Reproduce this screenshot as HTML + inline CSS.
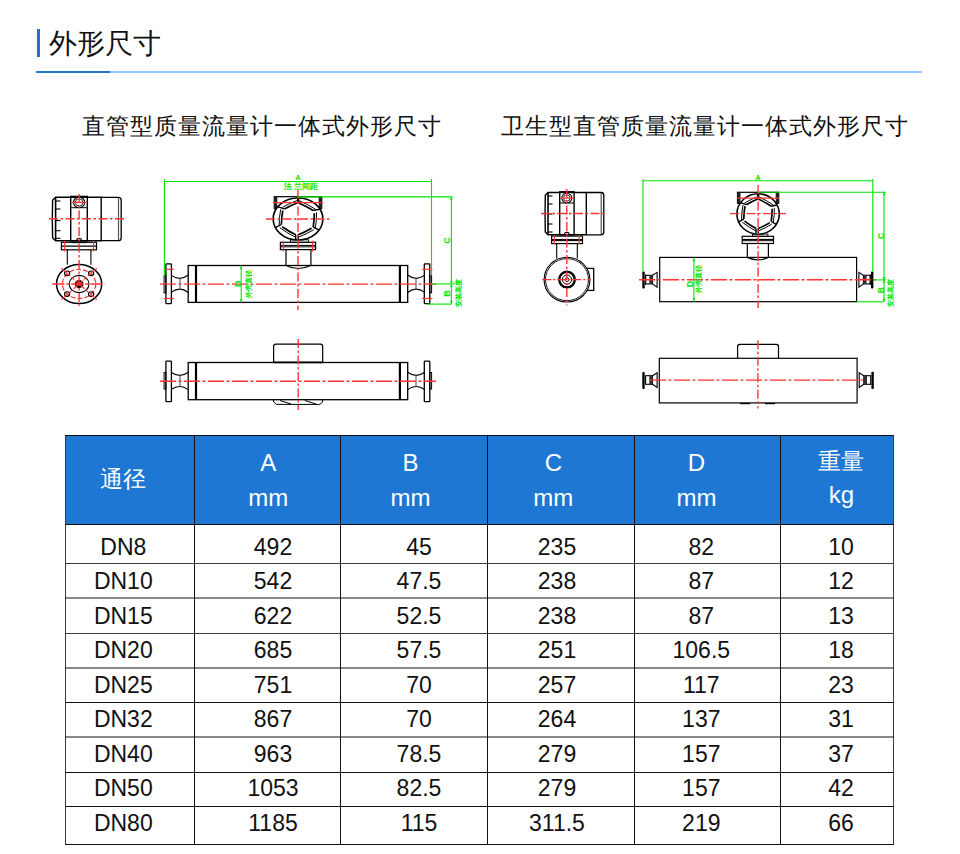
<!DOCTYPE html>
<html>
<head>
<meta charset="utf-8">
<style>
html,body{margin:0;padding:0;background:#fff;}
body{width:960px;height:854px;overflow:hidden;position:relative;font-family:"Liberation Sans",sans-serif;color:#111;}
.abs{position:absolute;white-space:nowrap;}
#bar{position:absolute;left:37px;top:29px;width:3px;height:28px;background:#1f74d0;}
#h1{left:49px;top:30px;font-size:28px;line-height:28px;color:#111;}
#ul1{position:absolute;left:36px;top:71px;width:74px;height:2px;background:#1f74d0;}
#ul2{position:absolute;left:110px;top:71px;width:812px;height:2px;background:#93c6fa;}
.sub{font-size:22.5px;line-height:24px;letter-spacing:1px;color:#111;}
svg{position:absolute;left:0;top:0;}
.c{position:absolute;text-align:center;white-space:nowrap;}
.hd{color:#fff;font-size:24px;}
.bd{color:#111;font-size:23px;line-height:23px;}
</style>
</head>
<body>
<div id="bar"></div>
<div id="h1" class="abs">外形尺寸</div>
<div id="ul1"></div><div id="ul2"></div>
<div class="abs sub" style="left:81.5px;top:114.5px;">直管型质量流量计一体式外形尺寸</div>
<div class="abs sub" style="left:501px;top:114.5px;">卫生型直管质量流量计一体式外形尺寸</div>

<!-- DRAWINGS -->
<svg id="draw" width="960" height="430" viewBox="0 0 960 430" style="font-family:'Liberation Sans',sans-serif">
<path d="M55.5 197.3 H101.2 V240.7 H55.5 L52.6 237.7 Q52.0 219 52.6 200.3 Z" fill="none" stroke="#000" stroke-width="1.4"/>
<path d="M101.2 197.3 H118.5 Q121.2 197.3 121.2 200.3 V237.7 Q121.2 240.7 118.5 240.7 H101.2" fill="none" stroke="#000" stroke-width="1.3"/>
<line x1="118.5" y1="197.8" x2="118.5" y2="240.2" stroke="#555" stroke-width="1.2" />
<line x1="55.6" y1="198" x2="55.6" y2="240" stroke="#000" stroke-width="1.6" />
<line x1="55.6" y1="201" x2="60.5" y2="201" stroke="#000" stroke-width="1.1" />
<line x1="55.6" y1="209" x2="60.5" y2="209" stroke="#000" stroke-width="1.1" />
<line x1="55.6" y1="220.6" x2="60.5" y2="220.6" stroke="#000" stroke-width="1.1" />
<line x1="55.6" y1="230.7" x2="60.5" y2="230.7" stroke="#000" stroke-width="1.1" />
<line x1="55.6" y1="238.3" x2="60.5" y2="238.3" stroke="#000" stroke-width="1.1" />
<rect x="70.7" y="196.4" width="16.6" height="44.3" rx="0" fill="none" stroke="#000" stroke-width="1.4"/>
<line x1="70.7" y1="207.7" x2="87.3" y2="207.7" stroke="#000" stroke-width="1" />
<ellipse cx="79.1" cy="202.4" rx="5.6" ry="5.2" fill="none" stroke="#000" stroke-width="1.1" />
<ellipse cx="79.1" cy="202.4" rx="3.8" ry="3.6" fill="none" stroke="#000" stroke-width="0.8" />
<line x1="71.5" y1="202.4" x2="86.5" y2="202.4" stroke="#ff3333" stroke-width="1.3" />
<path d="M76.6 240.7 A2.5 2.5 0 0 1 81.6 240.7" fill="none" stroke="#000" stroke-width="1.1"/>
<rect x="72" y="240.7" width="14" height="2" rx="0" fill="none" stroke="#000" stroke-width="0.9"/>
<rect x="61.4" y="242.3" width="35.1" height="7.5" rx="0" fill="none" stroke="#000" stroke-width="1.2"/>
<line x1="61.4" y1="246.2" x2="96.5" y2="246.2" stroke="#000" stroke-width="1.3" />
<line x1="67.3" y1="249.8" x2="67.3" y2="264.8" stroke="#000" stroke-width="1.1" />
<line x1="90.9" y1="249.8" x2="90.9" y2="264.8" stroke="#000" stroke-width="1.1" />
<ellipse cx="79.1" cy="284" rx="22.6" ry="19.6" fill="none" stroke="#000" stroke-width="1.5" />
<ellipse cx="79.1" cy="284" rx="9.9" ry="8.6" fill="none" stroke="#000" stroke-width="1.1" />
<ellipse cx="79.1" cy="284" rx="16.7" ry="14.5" fill="none" stroke="#ff3333" stroke-width="1.2" stroke-dasharray="5 2"/>
<ellipse cx="67.1" cy="273.3" rx="2.6" ry="2.3" fill="none" stroke="#000" stroke-width="1.1" />
<ellipse cx="91.1" cy="273.3" rx="2.6" ry="2.3" fill="none" stroke="#000" stroke-width="1.1" />
<ellipse cx="67.1" cy="294.1" rx="2.6" ry="2.3" fill="none" stroke="#000" stroke-width="1.1" />
<ellipse cx="91.1" cy="294.1" rx="2.6" ry="2.3" fill="none" stroke="#000" stroke-width="1.1" />
<ellipse cx="79.1" cy="284" rx="4.4" ry="4.0" fill="#000" stroke="#000" stroke-width="0" />
<line x1="61.4" y1="268.2" x2="96.8" y2="299.6" stroke="#ff3333" stroke-width="1.2" stroke-dasharray="12 2 3 2" stroke-dashoffset="0"/>
<line x1="96.8" y1="268.2" x2="61.4" y2="299.6" stroke="#ff3333" stroke-width="1.2" stroke-dasharray="12 2 3 2" stroke-dashoffset="0"/>
<ellipse cx="79.1" cy="284" rx="1.8" ry="1.8" fill="#ff3333" stroke="#000" stroke-width="0" />
<line x1="52.3" y1="284" x2="104.5" y2="284" stroke="#ff3333" stroke-width="1.4" stroke-dasharray="12 2 3 2" stroke-dashoffset="0"/>
<line x1="49" y1="218.8" x2="126" y2="218.8" stroke="#ff3333" stroke-width="1.4" stroke-dasharray="9 2.5 2.5 2.5" stroke-dashoffset="0"/>
<line x1="79.1" y1="194" x2="79.1" y2="306" stroke="#ff3333" stroke-width="1.4" stroke-dasharray="9 2.5 2.5 2.5" stroke-dashoffset="0"/>
<line x1="64.5" y1="241" x2="64.5" y2="251.5" stroke="#ff3333" stroke-width="1.2" />
<line x1="93.5" y1="241" x2="93.5" y2="251.5" stroke="#ff3333" stroke-width="1.2" />
<rect x="188.2" y="265.5" width="219.5" height="36.9" rx="0" fill="none" stroke="#000" stroke-width="1.3"/>
<line x1="196" y1="265.5" x2="196" y2="302.4" stroke="#000" stroke-width="2.2" />
<line x1="399.9" y1="265.5" x2="399.9" y2="302.4" stroke="#000" stroke-width="2.2" />
<rect x="165.9" y="263.8" width="5.5" height="39.9" rx="0.8" fill="none" stroke="#000" stroke-width="1.3"/>
<rect x="164.1" y="275.7" width="1.8" height="17.1" rx="0" fill="none" stroke="#000" stroke-width="1"/>
<path d="M171.4 275.4 Q180 281.5 188.2 275.0 M171.4 292.1 Q180 286 188.2 292.5" fill="none" stroke="#000" stroke-width="1.1"/>
<line x1="180" y1="278.5" x2="180" y2="289.4" stroke="#666" stroke-width="1.2" />
<rect x="424.3" y="263.8" width="5.5" height="39.9" rx="0.8" fill="none" stroke="#000" stroke-width="1.3"/>
<rect x="429.8" y="275.7" width="1.8" height="17.1" rx="0" fill="none" stroke="#000" stroke-width="1"/>
<path d="M407.7 275.0 Q416 281.5 424.3 275.4 M407.7 292.5 Q416 286 424.3 292.1" fill="none" stroke="#000" stroke-width="1.1"/>
<line x1="416" y1="278.5" x2="416" y2="289.4" stroke="#666" stroke-width="1.2" />
<line x1="163.8" y1="269.3" x2="173.9" y2="269.3" stroke="#ff3333" stroke-width="1.2" />
<line x1="163.8" y1="298.5" x2="173.9" y2="298.5" stroke="#ff3333" stroke-width="1.2" />
<line x1="422.3" y1="269.3" x2="432.4" y2="269.3" stroke="#ff3333" stroke-width="1.2" />
<line x1="422.3" y1="298.5" x2="432.4" y2="298.5" stroke="#ff3333" stroke-width="1.2" />
<path d="M286 249.5 V265.5 Q298 271.5 310.9 265.5 V249.5" fill="none" stroke="#000" stroke-width="1.2"/>
<rect x="280.4" y="242.3" width="35.2" height="7.3" rx="0" fill="none" stroke="#000" stroke-width="1.2"/>
<line x1="280.4" y1="245.4" x2="315.6" y2="245.4" stroke="#000" stroke-width="1.0" />
<line x1="280.4" y1="246.8" x2="315.6" y2="246.8" stroke="#000" stroke-width="1.0" />
<rect x="290.5" y="239.8" width="18" height="2.5" rx="0" fill="none" stroke="#000" stroke-width="0.9"/>
<rect x="274.3" y="196.7" width="47.4" height="11.9" rx="0" fill="none" stroke="#000" stroke-width="1.2"/>
<rect x="274.3" y="196.7" width="3" height="11.9" rx="0" fill="#222" stroke="#000" stroke-width="0"/>
<rect x="318.7" y="196.7" width="3" height="11.9" rx="0" fill="#222" stroke="#000" stroke-width="0"/>
<ellipse cx="298.0" cy="219" rx="24.85" ry="21" fill="#fff" stroke="#000" stroke-width="1.6" />
<path d="M297.7 202.7 Q290.8 205.3 284.4 208.9" fill="none" stroke="#000" stroke-width="1.7"/>
<path d="M297.7 200.3 Q289.7 203.1 282.4 207.4" fill="none" stroke="#000" stroke-width="1.0"/>
<path d="M282.8 210.5 Q281.5 217.4 281.4 224.5" fill="none" stroke="#000" stroke-width="1.7"/>
<path d="M280.7 209.4 Q279.1 217.2 279.2 225.2" fill="none" stroke="#000" stroke-width="1.0"/>
<path d="M282.2 226.7 Q288.6 231.2 295.7 234.8" fill="none" stroke="#000" stroke-width="1.7"/>
<path d="M279.9 227.8 Q287.1 233.1 295.4 237.1" fill="none" stroke="#000" stroke-width="1.0"/>
<path d="M298.6 203.0 Q306.2 206.2 313.2 210.5" fill="none" stroke="#000" stroke-width="1.7"/>
<path d="M298.7 200.6 Q307.5 204.2 315.5 209.2" fill="none" stroke="#000" stroke-width="1.0"/>
<path d="M314.3 213.2 Q314.3 220.2 313.2 227.2" fill="none" stroke="#000" stroke-width="1.7"/>
<path d="M316.5 212.4 Q316.7 220.4 315.3 228.3" fill="none" stroke="#000" stroke-width="1.0"/>
<path d="M311.6 228.3 Q305.2 232.1 298.2 234.8" fill="none" stroke="#000" stroke-width="1.7"/>
<path d="M313.7 229.7 Q306.3 234.2 298.2 237.2" fill="none" stroke="#000" stroke-width="1.0"/>
<line x1="284.4" y1="208.9" x2="277.4" y2="206.6" stroke="#000" stroke-width="1.4" />
<line x1="281.4" y1="224.5" x2="275.8" y2="227.4" stroke="#000" stroke-width="1.4" />
<line x1="313.2" y1="210.5" x2="319.8" y2="209.2" stroke="#000" stroke-width="1.4" />
<line x1="313.2" y1="227.2" x2="319.2" y2="230.2" stroke="#000" stroke-width="1.4" />
<line x1="295.7" y1="234.8" x2="295.7" y2="239.5" stroke="#000" stroke-width="1.4" />
<line x1="298.2" y1="234.8" x2="298.2" y2="239.5" stroke="#000" stroke-width="1.4" />
<line x1="297.7" y1="202.7" x2="297.7" y2="196.7" stroke="#000" stroke-width="1.4" />
<line x1="298.6" y1="203.0" x2="298.6" y2="196.7" stroke="#000" stroke-width="1.4" />
<line x1="298.0" y1="190" x2="298.0" y2="310" stroke="#ff3333" stroke-width="1.4" stroke-dasharray="9 2.5 2.5 2.5" stroke-dashoffset="0"/>
<line x1="266" y1="219" x2="330" y2="219" stroke="#ff3333" stroke-width="1.4" stroke-dasharray="9 2.5 2.5 2.5" stroke-dashoffset="0"/>
<line x1="273" y1="202.6" x2="323" y2="202.6" stroke="#ff3333" stroke-width="1.3" />
<line x1="283.3" y1="241" x2="283.3" y2="251.5" stroke="#ff3333" stroke-width="1.2" />
<line x1="312.6" y1="241" x2="312.6" y2="251.5" stroke="#ff3333" stroke-width="1.2" />
<line x1="160" y1="284.1" x2="436" y2="284.1" stroke="#ff3333" stroke-width="1.4" stroke-dasharray="16 2.5 3 2.5" stroke-dashoffset="0"/>
<line x1="164.4" y1="181.5" x2="431.5" y2="181.5" stroke="#00e600" stroke-width="1.1"/>
<line x1="164.4" y1="179" x2="164.4" y2="275.7" stroke="#00e600" stroke-width="1.1"/>
<line x1="431.5" y1="179" x2="431.5" y2="275.7" stroke="#00e600" stroke-width="1.1"/>
<line x1="298" y1="196.9" x2="452.5" y2="196.9" stroke="#00e600" stroke-width="1.1"/>
<line x1="451.4" y1="196.9" x2="451.4" y2="304.1" stroke="#00e600" stroke-width="1.1"/>
<line x1="431" y1="283.9" x2="455" y2="283.9" stroke="#00e600" stroke-width="1.1"/>
<line x1="427" y1="304.1" x2="452" y2="304.1" stroke="#00e600" stroke-width="1.1"/>
<line x1="241.2" y1="265.5" x2="241.2" y2="302.4" stroke="#00e600" stroke-width="1.1"/>
<path d="M239.9 269 L241.2 266 L242.5 269 Z M239.9 299 L241.2 302 L242.5 299 Z" fill="#00e600"/>
<path d="M450.1 200 L451.4 197 L452.7 200 Z M450.1 280.9 L451.4 283.9 L452.7 280.9 Z M450.1 286.9 L451.4 283.9 L452.7 286.9 Z M450.1 301.1 L451.4 304.1 L452.7 301.1 Z" fill="#00e600"/>
<text x="298" y="177.5" font-size="7" fill="#00e600" font-weight="bold" text-anchor="middle" dominant-baseline="central">A</text>
<text x="301" y="186.5" font-size="8" fill="#00e600" font-family="Liberation Serif, serif" font-weight="bold" text-anchor="middle" dominant-baseline="central">法 兰间距</text>
<text x="237.6" y="283.8" font-size="9.5" fill="#00e600" font-weight="bold" text-anchor="middle" dominant-baseline="central" transform="rotate(-90 237.6 283.8)">D</text>
<text x="249.2" y="284.2" font-size="7.1" fill="#00e600" font-family="Liberation Serif, serif" font-weight="bold" text-anchor="middle" dominant-baseline="central" transform="rotate(-90 249.2 284.2)">外壳直径</text>
<text x="447.4" y="240.6" font-size="9" fill="#00e600" font-weight="bold" text-anchor="middle" dominant-baseline="central" transform="rotate(-90 447.4 240.6)">C</text>
<text x="447.4" y="293.6" font-size="9" fill="#00e600" font-weight="bold" text-anchor="middle" dominant-baseline="central" transform="rotate(-90 447.4 293.6)">B</text>
<text x="459.3" y="293.1" font-size="7.2" fill="#00e600" font-family="Liberation Serif, serif" font-weight="bold" text-anchor="middle" dominant-baseline="central" transform="rotate(-90 459.3 293.1)">安装高度</text>
<rect x="188.2" y="362.5" width="219.5" height="37.2" rx="0" fill="none" stroke="#000" stroke-width="1.3"/>
<line x1="196" y1="362.5" x2="196" y2="399.7" stroke="#000" stroke-width="2.2" />
<line x1="399.9" y1="362.5" x2="399.9" y2="399.7" stroke="#000" stroke-width="2.2" />
<rect x="165.9" y="361.2" width="5.5" height="40.5" rx="0.8" fill="none" stroke="#000" stroke-width="1.3"/>
<rect x="164.1" y="372.5" width="1.8" height="16.5" rx="0" fill="none" stroke="#000" stroke-width="1"/>
<path d="M171.4 372.5 Q180 378.5 188.2 372.2 M171.4 389.2 Q180 383.5 188.2 389.6" fill="none" stroke="#000" stroke-width="1.1"/>
<line x1="180" y1="375.5" x2="180" y2="386.5" stroke="#666" stroke-width="1.2" />
<rect x="424.3" y="361.2" width="5.5" height="40.5" rx="0.8" fill="none" stroke="#000" stroke-width="1.3"/>
<rect x="429.8" y="372.5" width="1.8" height="16.5" rx="0" fill="none" stroke="#000" stroke-width="1"/>
<path d="M407.7 372.2 Q416 378.5 424.3 372.5 M407.7 389.6 Q416 383.5 424.3 389.2" fill="none" stroke="#000" stroke-width="1.1"/>
<line x1="416" y1="375.5" x2="416" y2="386.5" stroke="#666" stroke-width="1.2" />
<path d="M273.6 362.3 V346.5 Q273.6 344.2 275.9 344.2 H320.4 Q322.7 344.2 322.7 346.5 V362.3" fill="none" stroke="#000" stroke-width="1.2"/>
<line x1="273.6" y1="362.4" x2="322.7" y2="362.4" stroke="#000" stroke-width="1.8" />
<path d="M273.6 399.7 V402 L276.5 404.4 H319.8 L322.7 402 V399.7 M280 400.5 L291 404 M305 400.5 L316 404" fill="none" stroke="#000" stroke-width="1.0"/>
<line x1="160" y1="381.3" x2="436" y2="381.3" stroke="#ff3333" stroke-width="1.4" stroke-dasharray="16 2.5 3 2.5" stroke-dashoffset="0"/>
<line x1="298.2" y1="339" x2="298.2" y2="410" stroke="#ff3333" stroke-width="1.4" stroke-dasharray="9 2.5 2.5 2.5" stroke-dashoffset="0"/>
<path d="M548 192.5 H586.3 V234.8 H548 L545.3 232 Q544.8 213.6 545.3 195.3 Z" fill="none" stroke="#000" stroke-width="1.4"/>
<path d="M586.3 192.5 H601 Q603.8 192.5 603.8 195.3 V232 Q603.8 234.8 601 234.8 H586.3" fill="none" stroke="#000" stroke-width="1.3"/>
<line x1="601.2" y1="193" x2="601.2" y2="234.3" stroke="#555" stroke-width="1.2" />
<line x1="548" y1="193" x2="548" y2="234.3" stroke="#000" stroke-width="1.6" />
<line x1="548" y1="196" x2="552.5" y2="196" stroke="#000" stroke-width="1.1" />
<line x1="548" y1="204" x2="552.5" y2="204" stroke="#000" stroke-width="1.1" />
<line x1="548" y1="214" x2="552.5" y2="214" stroke="#000" stroke-width="1.1" />
<line x1="548" y1="224" x2="552.5" y2="224" stroke="#000" stroke-width="1.1" />
<line x1="548" y1="232" x2="552.5" y2="232" stroke="#000" stroke-width="1.1" />
<rect x="559.7" y="191.8" width="14.4" height="43" rx="0" fill="none" stroke="#000" stroke-width="1.4"/>
<line x1="559.7" y1="203" x2="574.1" y2="203" stroke="#000" stroke-width="1" />
<ellipse cx="566.8" cy="198" rx="5.0" ry="4.7" fill="none" stroke="#000" stroke-width="1.1" />
<ellipse cx="566.8" cy="198" rx="3.3" ry="3.1" fill="none" stroke="#000" stroke-width="0.8" />
<line x1="560.5" y1="198" x2="573.3" y2="198" stroke="#ff3333" stroke-width="1.3" />
<path d="M564.3 234.8 A2.5 2.5 0 0 1 569.3 234.8" fill="none" stroke="#000" stroke-width="1.1"/>
<rect x="551.6" y="236.1" width="30.9" height="7.5" rx="0" fill="none" stroke="#000" stroke-width="1.2"/>
<line x1="551.6" y1="239.5" x2="582.5" y2="239.5" stroke="#000" stroke-width="1.1" />
<line x1="551.6" y1="240.6" x2="582.5" y2="240.6" stroke="#000" stroke-width="1.1" />
<line x1="556.7" y1="243.6" x2="556.7" y2="258.5" stroke="#000" stroke-width="1.1" />
<line x1="577.3" y1="243.6" x2="577.3" y2="258.5" stroke="#000" stroke-width="1.1" />
<rect x="587.2" y="268.4" width="6.5" height="22" rx="0" fill="none" stroke="#000" stroke-width="1.3"/>
<ellipse cx="567" cy="279.65" rx="22.9" ry="22.4" fill="#fff" stroke="#000" stroke-width="1.1" />
<ellipse cx="567" cy="279.65" rx="21.5" ry="21.0" fill="none" stroke="#000" stroke-width="0.9" />
<ellipse cx="567" cy="279.6" rx="7.8" ry="7.8" fill="none" stroke="#000" stroke-width="2.4" />
<ellipse cx="567" cy="279.6" rx="4.6" ry="4.6" fill="none" stroke="#000" stroke-width="1.0" />
<ellipse cx="567" cy="279.6" rx="2.0" ry="2.0" fill="none" stroke="#000" stroke-width="0.8" />
<line x1="542.2" y1="279.6" x2="590.4" y2="279.6" stroke="#ff3333" stroke-width="1.4" stroke-dasharray="9 2 2 2" stroke-dashoffset="0"/>
<line x1="541" y1="213.5" x2="607" y2="213.5" stroke="#ff3333" stroke-width="1.4" stroke-dasharray="9 2.5 2.5 2.5" stroke-dashoffset="0"/>
<line x1="566.8" y1="189" x2="566.8" y2="305.4" stroke="#ff3333" stroke-width="1.4" stroke-dasharray="9 2.5 2.5 2.5" stroke-dashoffset="0"/>
<line x1="554.4" y1="235.5" x2="554.4" y2="244.5" stroke="#ff3333" stroke-width="1.2" />
<line x1="579.2" y1="235.5" x2="579.2" y2="244.5" stroke="#ff3333" stroke-width="1.2" />
<rect x="659.7" y="257.4" width="196.9" height="44.3" rx="0" fill="none" stroke="#000" stroke-width="1.2"/>
<rect x="642.3" y="271.6" width="2.4" height="16.9" rx="0.8" fill="#000" stroke="#000" stroke-width="0"/>
<line x1="645.6" y1="274.5" x2="645.6" y2="285" stroke="#000" stroke-width="1" />
<rect x="645.6" y="275.3" width="6.9" height="8.6" rx="0" fill="none" stroke="#000" stroke-width="1.1"/>
<rect x="649.3" y="275.3" width="3.2" height="8.6" rx="0" fill="#333" stroke="#000" stroke-width="0"/>
<path d="M652.5 275.3 L657.1 272.4 V287.1 L652.5 283.9" fill="none" stroke="#000" stroke-width="1.1"/>
<rect x="871" y="271.4" width="2.4" height="17.2" rx="0.8" fill="#000" stroke="#000" stroke-width="0"/>
<line x1="870.2" y1="274.5" x2="870.2" y2="285" stroke="#000" stroke-width="1" />
<rect x="863.4" y="275.3" width="6.9" height="8.6" rx="0" fill="none" stroke="#000" stroke-width="1.1"/>
<rect x="863.4" y="275.3" width="3.2" height="8.6" rx="0" fill="#333" stroke="#000" stroke-width="0"/>
<path d="M863.4 275.3 L858.9 272.4 V287.1 L863.4 283.9" fill="none" stroke="#000" stroke-width="1.1"/>
<path d="M747.3 243.5 V257.4 Q758 262.5 768.4 257.4 V243.5" fill="none" stroke="#000" stroke-width="1.2"/>
<rect x="742.2" y="236.3" width="31.3" height="7.2" rx="0" fill="none" stroke="#000" stroke-width="1.2"/>
<line x1="742.2" y1="239.5" x2="773.5" y2="239.5" stroke="#000" stroke-width="1.2" />
<line x1="742.2" y1="240.7" x2="773.5" y2="240.7" stroke="#000" stroke-width="1.0" />
<rect x="752.5" y="234" width="15.4" height="2.3" rx="0" fill="none" stroke="#000" stroke-width="0.9"/>
<rect x="737.5" y="192.3" width="41.2" height="11" rx="0" fill="none" stroke="#000" stroke-width="1.2"/>
<rect x="737.5" y="192.3" width="3" height="11" rx="0" fill="#222" stroke="#000" stroke-width="0"/>
<rect x="775.7" y="192.3" width="3" height="11" rx="0" fill="#222" stroke="#000" stroke-width="0"/>
<ellipse cx="758.1" cy="214" rx="21.2" ry="20.2" fill="#fff" stroke="#000" stroke-width="1.6" />
<path d="M757.8 199.0 Q751.9 201.3 746.4 204.7" fill="none" stroke="#000" stroke-width="1.7"/>
<path d="M757.8 196.6 Q750.8 199.2 744.5 203.2" fill="none" stroke="#000" stroke-width="1.0"/>
<path d="M745.0 206.2 Q743.8 212.6 743.8 219.1" fill="none" stroke="#000" stroke-width="1.7"/>
<path d="M743.0 205.0 Q741.4 212.3 741.6 219.9" fill="none" stroke="#000" stroke-width="1.0"/>
<path d="M744.5 221.1 Q750.0 225.3 756.1 228.5" fill="none" stroke="#000" stroke-width="1.7"/>
<path d="M742.3 222.2 Q748.6 227.2 755.8 230.9" fill="none" stroke="#000" stroke-width="1.0"/>
<path d="M758.6 199.3 Q765.2 202.2 771.2 206.2" fill="none" stroke="#000" stroke-width="1.7"/>
<path d="M758.7 196.9 Q766.4 200.2 773.3 204.9" fill="none" stroke="#000" stroke-width="1.0"/>
<path d="M772.1 208.7 Q772.2 215.2 771.2 221.5" fill="none" stroke="#000" stroke-width="1.7"/>
<path d="M774.3 207.8 Q774.6 215.3 773.2 222.7" fill="none" stroke="#000" stroke-width="1.0"/>
<path d="M769.8 222.6 Q764.3 226.1 758.3 228.5" fill="none" stroke="#000" stroke-width="1.7"/>
<path d="M771.7 224.0 Q765.4 228.2 758.3 231.0" fill="none" stroke="#000" stroke-width="1.0"/>
<line x1="746.4" y1="204.7" x2="740.4" y2="202.6" stroke="#000" stroke-width="1.4" />
<line x1="743.8" y1="219.1" x2="739.0" y2="221.7" stroke="#000" stroke-width="1.4" />
<line x1="771.2" y1="206.2" x2="776.8" y2="205.0" stroke="#000" stroke-width="1.4" />
<line x1="771.2" y1="221.5" x2="776.3" y2="224.3" stroke="#000" stroke-width="1.4" />
<line x1="756.1" y1="228.5" x2="756.1" y2="232.9" stroke="#000" stroke-width="1.4" />
<line x1="758.3" y1="228.5" x2="758.3" y2="232.9" stroke="#000" stroke-width="1.4" />
<line x1="757.8" y1="199.0" x2="757.8" y2="193.5" stroke="#000" stroke-width="1.4" />
<line x1="758.6" y1="199.3" x2="758.6" y2="193.5" stroke="#000" stroke-width="1.4" />
<line x1="758.1" y1="185" x2="758.1" y2="308" stroke="#ff3333" stroke-width="1.4" stroke-dasharray="9 2.5 2.5 2.5" stroke-dashoffset="0"/>
<line x1="730" y1="213.6" x2="786" y2="213.6" stroke="#ff3333" stroke-width="1.4" stroke-dasharray="9 2.5 2.5 2.5" stroke-dashoffset="0"/>
<line x1="737" y1="198.1" x2="779" y2="198.1" stroke="#ff3333" stroke-width="1.3" />
<line x1="639" y1="279.7" x2="876" y2="279.7" stroke="#ff3333" stroke-width="1.4" stroke-dasharray="16 2.5 3 2.5" stroke-dashoffset="0"/>
<line x1="643" y1="180.8" x2="873" y2="180.8" stroke="#00e600" stroke-width="1.1"/>
<line x1="643" y1="179" x2="643" y2="271.6" stroke="#00e600" stroke-width="1.1"/>
<line x1="872.8" y1="179" x2="872.8" y2="271.6" stroke="#00e600" stroke-width="1.1"/>
<line x1="758" y1="192.3" x2="886" y2="192.3" stroke="#00e600" stroke-width="1.1"/>
<line x1="884" y1="192.3" x2="884" y2="301.8" stroke="#00e600" stroke-width="1.1"/>
<line x1="873" y1="279.9" x2="886" y2="279.9" stroke="#00e600" stroke-width="1.1"/>
<line x1="856.5" y1="301.8" x2="884" y2="301.8" stroke="#00e600" stroke-width="1.1"/>
<line x1="693.9" y1="257.4" x2="693.9" y2="301.7" stroke="#00e600" stroke-width="1.1"/>
<path d="M692.6 261 L693.9 258 L695.2 261 Z M692.6 298 L693.9 301 L695.2 298 Z M882.7 195.3 L884 192.3 L885.3 195.3 Z M882.7 276.9 L884 279.9 L885.3 276.9 Z M882.7 282.9 L884 279.9 L885.3 282.9 Z M882.7 298.8 L884 301.8 L885.3 298.8 Z" fill="#00e600"/>
<text x="758" y="177" font-size="7" fill="#00e600" font-weight="bold" text-anchor="middle" dominant-baseline="central">A</text>
<text x="690" y="284.1" font-size="9" fill="#00e600" font-weight="bold" text-anchor="middle" dominant-baseline="central" transform="rotate(-90 690 284.1)">D</text>
<text x="699.5" y="279.2" font-size="7.2" fill="#00e600" font-family="Liberation Serif, serif" font-weight="bold" text-anchor="middle" dominant-baseline="central" transform="rotate(-90 699.5 279.2)">外壳直径</text>
<text x="880.6" y="235.8" font-size="8.5" fill="#00e600" font-weight="bold" text-anchor="middle" dominant-baseline="central" transform="rotate(-90 880.6 235.8)">C</text>
<text x="880.6" y="290.1" font-size="8.5" fill="#00e600" font-weight="bold" text-anchor="middle" dominant-baseline="central" transform="rotate(-90 880.6 290.1)">B</text>
<text x="890.6" y="292.5" font-size="6.8" fill="#00e600" font-family="Liberation Serif, serif" font-weight="bold" text-anchor="middle" dominant-baseline="central" transform="rotate(-90 890.6 292.5)">安装高度</text>
<rect x="659.3" y="358.3" width="197.8" height="44.6" rx="0" fill="none" stroke="#000" stroke-width="1.2"/>
<path d="M737.6 357.9 V346.6 Q737.6 344.4 739.8 344.4 H776.3 Q778.5 344.4 778.5 346.6 V357.9" fill="none" stroke="#000" stroke-width="1.2"/>
<rect x="642.3" y="372.00000000000006" width="2.4" height="16.9" rx="0.8" fill="#000" stroke="#000" stroke-width="0"/>
<rect x="645.6" y="375.70000000000005" width="6.9" height="8.6" rx="0" fill="none" stroke="#000" stroke-width="1.1"/>
<rect x="649.3" y="375.70000000000005" width="3.2" height="8.6" rx="0" fill="#333" stroke="#000" stroke-width="0"/>
<path d="M652.5 375.7 L657.1 372.8 V387.5 L652.5 384.3" fill="none" stroke="#000" stroke-width="1.1"/>
<rect x="871.4" y="371.8" width="2.4" height="17.2" rx="0.8" fill="#000" stroke="#000" stroke-width="0"/>
<rect x="863.8" y="375.70000000000005" width="6.9" height="8.6" rx="0" fill="none" stroke="#000" stroke-width="1.1"/>
<rect x="863.8" y="375.70000000000005" width="3.2" height="8.6" rx="0" fill="#333" stroke="#000" stroke-width="0"/>
<path d="M863.8 375.7 L859.2 372.8 V387.5 L863.8 384.3" fill="none" stroke="#000" stroke-width="1.1"/>
<line x1="740" y1="403.6" x2="750" y2="403.6" stroke="#000" stroke-width="1.2" />
<line x1="765" y1="403.6" x2="775" y2="403.6" stroke="#000" stroke-width="1.2" />
<line x1="650" y1="380.1" x2="866" y2="380.1" stroke="#ff3333" stroke-width="1.4" stroke-dasharray="16 2.5 3 2.5" stroke-dashoffset="0"/>
<line x1="757.9" y1="340.3" x2="757.9" y2="408.6" stroke="#ff3333" stroke-width="1.4" stroke-dasharray="9 2.5 2.5 2.5" stroke-dashoffset="0"/>
</svg>

<!-- TABLE GRID -->
<svg width="960" height="854" viewBox="0 0 960 854" style="top:0;left:0">
<rect x="65" y="435" width="829" height="89.5" fill="#1e77d2"/>
<g stroke="#111" stroke-width="1" fill="none">
<line x1="65.5" y1="435" x2="65.5" y2="844.5" stroke="#3c3c3c"/>
<line x1="194.5" y1="435" x2="194.5" y2="844.5"/>
<line x1="340.5" y1="435" x2="340.5" y2="844.5"/>
<line x1="487.5" y1="435" x2="487.5" y2="844.5"/>
<line x1="634.5" y1="435" x2="634.5" y2="844.5"/>
<line x1="780.5" y1="435" x2="780.5" y2="844.5"/>
<line x1="893.5" y1="435" x2="893.5" y2="844.5" stroke="#3c3c3c"/>
<line x1="65" y1="435.5" x2="894" y2="435.5"/>
<line x1="65" y1="524.5" x2="894" y2="524.5"/>
<line x1="65" y1="563.5" x2="894" y2="563.5" stroke="#3c3c3c"/>
<line x1="65" y1="598" x2="894" y2="598"/>
<line x1="65" y1="633.5" x2="894" y2="633.5" stroke="#3c3c3c"/>
<line x1="65" y1="668" x2="894" y2="668"/>
<line x1="65" y1="702.5" x2="894" y2="702.5"/>
<line x1="65" y1="737" x2="894" y2="737"/>
<line x1="65" y1="772.5" x2="894" y2="772.5"/>
<line x1="65" y1="806.5" x2="894" y2="806.5"/>
<line x1="65" y1="844.5" x2="894" y2="844.5"/>
</g>
</svg>
<div id="tbl">
<div class="c bd" style="left:63.3px;top:535.8px;width:120px">DN8</div>
<div class="c bd" style="left:213.0px;top:535.8px;width:120px">492</div>
<div class="c bd" style="left:359.0px;top:535.8px;width:120px">45</div>
<div class="c bd" style="left:497.0px;top:535.8px;width:120px">235</div>
<div class="c bd" style="left:641.3px;top:535.8px;width:120px">82</div>
<div class="c bd" style="left:781.0px;top:535.8px;width:120px">10</div>
<div class="c bd" style="left:63.3px;top:570.3px;width:120px">DN10</div>
<div class="c bd" style="left:213.0px;top:570.3px;width:120px">542</div>
<div class="c bd" style="left:359.0px;top:570.3px;width:120px">47.5</div>
<div class="c bd" style="left:497.0px;top:570.3px;width:120px">238</div>
<div class="c bd" style="left:641.3px;top:570.3px;width:120px">87</div>
<div class="c bd" style="left:781.0px;top:570.3px;width:120px">12</div>
<div class="c bd" style="left:63.3px;top:604.8px;width:120px">DN15</div>
<div class="c bd" style="left:213.0px;top:604.8px;width:120px">622</div>
<div class="c bd" style="left:359.0px;top:604.8px;width:120px">52.5</div>
<div class="c bd" style="left:497.0px;top:604.8px;width:120px">238</div>
<div class="c bd" style="left:641.3px;top:604.8px;width:120px">87</div>
<div class="c bd" style="left:781.0px;top:604.8px;width:120px">13</div>
<div class="c bd" style="left:63.3px;top:639.3px;width:120px">DN20</div>
<div class="c bd" style="left:213.0px;top:639.3px;width:120px">685</div>
<div class="c bd" style="left:359.0px;top:639.3px;width:120px">57.5</div>
<div class="c bd" style="left:497.0px;top:639.3px;width:120px">251</div>
<div class="c bd" style="left:641.3px;top:639.3px;width:120px">106.5</div>
<div class="c bd" style="left:781.0px;top:639.3px;width:120px">18</div>
<div class="c bd" style="left:63.3px;top:673.8px;width:120px">DN25</div>
<div class="c bd" style="left:213.0px;top:673.8px;width:120px">751</div>
<div class="c bd" style="left:359.0px;top:673.8px;width:120px">70</div>
<div class="c bd" style="left:497.0px;top:673.8px;width:120px">257</div>
<div class="c bd" style="left:641.3px;top:673.8px;width:120px">117</div>
<div class="c bd" style="left:781.0px;top:673.8px;width:120px">23</div>
<div class="c bd" style="left:63.3px;top:708.3px;width:120px">DN32</div>
<div class="c bd" style="left:213.0px;top:708.3px;width:120px">867</div>
<div class="c bd" style="left:359.0px;top:708.3px;width:120px">70</div>
<div class="c bd" style="left:497.0px;top:708.3px;width:120px">264</div>
<div class="c bd" style="left:641.3px;top:708.3px;width:120px">137</div>
<div class="c bd" style="left:781.0px;top:708.3px;width:120px">31</div>
<div class="c bd" style="left:63.3px;top:742.9px;width:120px">DN40</div>
<div class="c bd" style="left:213.0px;top:742.9px;width:120px">963</div>
<div class="c bd" style="left:359.0px;top:742.9px;width:120px">78.5</div>
<div class="c bd" style="left:497.0px;top:742.9px;width:120px">279</div>
<div class="c bd" style="left:641.3px;top:742.9px;width:120px">157</div>
<div class="c bd" style="left:781.0px;top:742.9px;width:120px">37</div>
<div class="c bd" style="left:63.3px;top:777.4px;width:120px">DN50</div>
<div class="c bd" style="left:213.0px;top:777.4px;width:120px">1053</div>
<div class="c bd" style="left:359.0px;top:777.4px;width:120px">82.5</div>
<div class="c bd" style="left:497.0px;top:777.4px;width:120px">279</div>
<div class="c bd" style="left:641.3px;top:777.4px;width:120px">157</div>
<div class="c bd" style="left:781.0px;top:777.4px;width:120px">42</div>
<div class="c bd" style="left:63.3px;top:811.9px;width:120px">DN80</div>
<div class="c bd" style="left:213.0px;top:811.9px;width:120px">1185</div>
<div class="c bd" style="left:359.0px;top:811.9px;width:120px">115</div>
<div class="c bd" style="left:497.0px;top:811.9px;width:120px">311.5</div>
<div class="c bd" style="left:641.3px;top:811.9px;width:120px">219</div>
<div class="c bd" style="left:781.0px;top:811.9px;width:120px">66</div>
<div class="c hd" style="left:62.7px;top:468px;width:120px;line-height:24px;font-size:22.5px">通径</div>
<div class="c hd" style="left:208.2px;top:450.8px;width:120px;line-height:24px">A</div>
<div class="c hd" style="left:208.2px;top:485.8px;width:120px;line-height:24px">mm</div>
<div class="c hd" style="left:350.5px;top:450.8px;width:120px;line-height:24px">B</div>
<div class="c hd" style="left:350.5px;top:485.8px;width:120px;line-height:24px">mm</div>
<div class="c hd" style="left:493.3px;top:450.8px;width:120px;line-height:24px">C</div>
<div class="c hd" style="left:493.3px;top:485.8px;width:120px;line-height:24px">mm</div>
<div class="c hd" style="left:636.5px;top:450.8px;width:120px;line-height:24px">D</div>
<div class="c hd" style="left:636.5px;top:485.8px;width:120px;line-height:24px">mm</div>
<div class="c hd" style="left:781.4px;top:450px;width:120px;line-height:24px;font-size:22.5px">重量</div>
<div class="c hd" style="left:781.4px;top:483.2px;width:120px;line-height:24px">kg</div>
</div>
</body>
</html>
